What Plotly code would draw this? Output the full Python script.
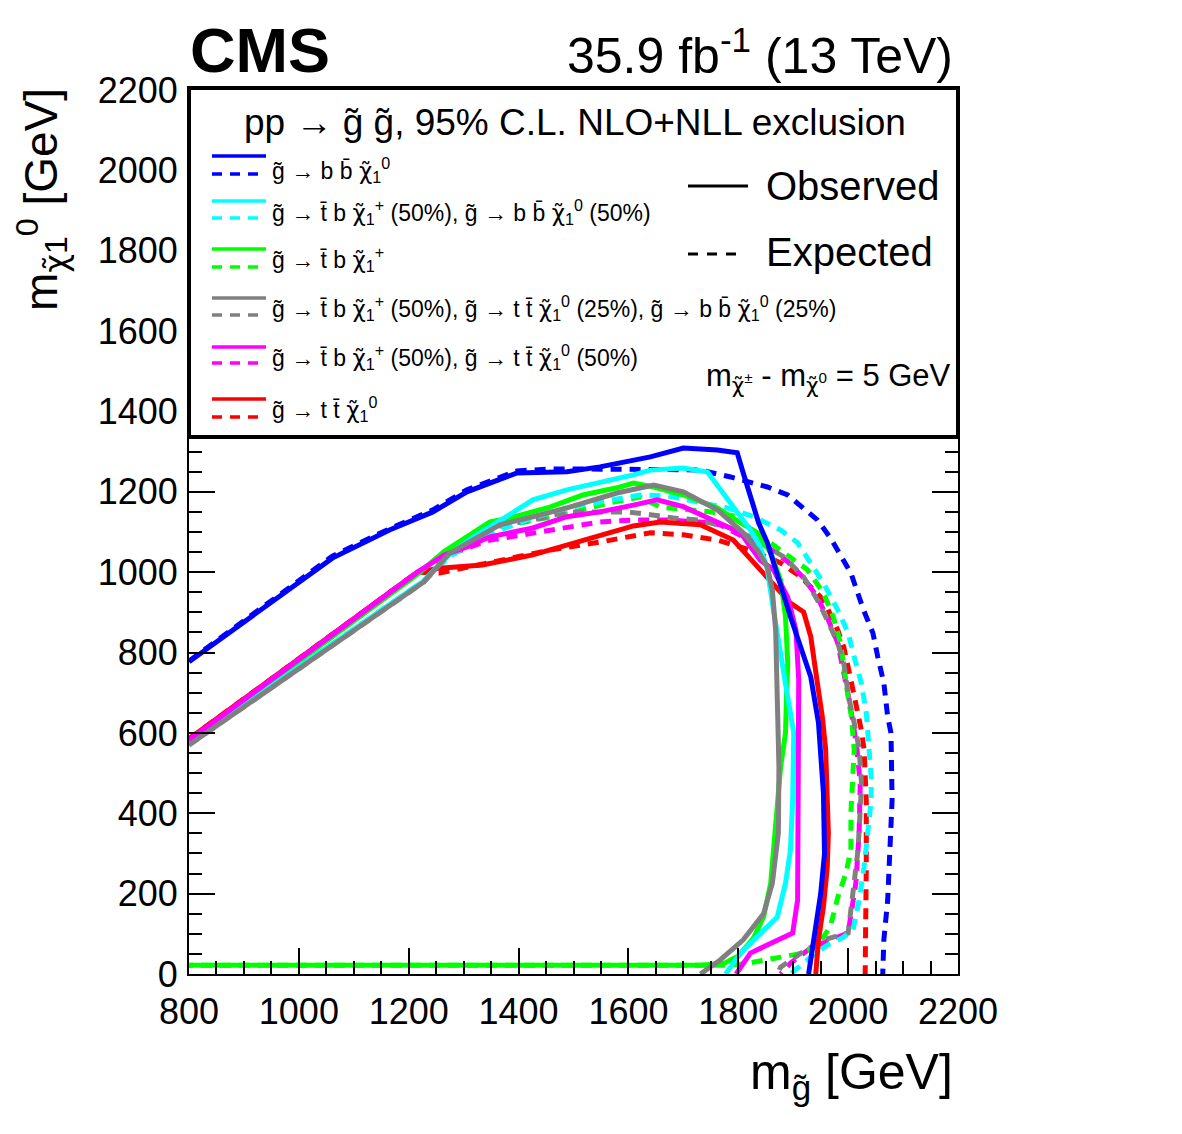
import plotly.graph_objects as go

# ---------------- data ----------------
blue_obs_x = [800, 922, 1061, 1165, 1244, 1306, 1397, 1488, 1548, 1640, 1700, 1762, 1798, 1809, 1837, 1853, 1895, 1932, 1946, 1955, 1957, 1950, 1938, 1928]
blue_obs_y = [777, 899, 1035, 1105, 1150, 1200, 1247, 1250, 1262, 1287, 1309, 1304, 1297, 1247, 1123, 1073, 889, 739, 625, 450, 300, 200, 100, 0]
blue_exp_x = [800, 922, 1061, 1165, 1244, 1306, 1397, 1460, 1530, 1600, 1700, 1731, 1786, 1853, 1890, 1919, 1944, 1968, 1986, 2005, 2028, 2045, 2054, 2065, 2072, 2078, 2080, 2076, 2072, 2065, 2063]
blue_exp_y = [779, 902, 1040, 1108, 1155, 1205, 1252, 1257, 1258, 1256, 1255, 1254, 1237, 1212, 1192, 1160, 1130, 1085, 1043, 998, 906, 849, 789, 724, 640, 600, 433, 309, 184, 85, 0]

cyan_obs_x = [800, 1227, 1275, 1320, 1366, 1426, 1488, 1548, 1609, 1640, 1700, 1744, 1767, 1791, 1822, 1840, 1853, 1864, 1877, 1890, 1901, 1899, 1895, 1886, 1871, 1840, 1804, 1777]
cyan_obs_y = [575, 978, 1046, 1090, 1128, 1180, 1205, 1222, 1242, 1254, 1259, 1249, 1205, 1162, 1105, 1063, 1006, 906, 789, 689, 600, 433, 309, 226, 142, 102, 52, 0]
cyan_exp_x = [800, 1227, 1275, 1320, 1366, 1426, 1488, 1548, 1621, 1670, 1731, 1780, 1828, 1877, 1908, 1932, 1955, 1981, 2000, 2011, 2024, 2033, 2038, 2042, 2042, 2036, 2029, 2020, 2009, 1990, 1960, 1930, 1905, 1895]
cyan_exp_y = [575, 978, 1040, 1075, 1105, 1135, 1160, 1175, 1192, 1190, 1172, 1160, 1138, 1105, 1073, 1023, 973, 906, 849, 789, 724, 650, 560, 490, 433, 351, 266, 184, 110, 90, 70, 40, 10, 0]

green_obs_x = [800, 1216, 1265, 1348, 1379, 1457, 1517, 1579, 1609, 1646, 1700, 1762, 1786, 1835, 1859, 1877, 1886, 1890, 1888, 1886, 1877, 1868, 1859, 1846, 1828, 1800, 1775, 1731, 800]
green_obs_y = [578, 995, 1052, 1125, 1133, 1162, 1192, 1210, 1222, 1212, 1192, 1160, 1138, 1098, 1048, 981, 889, 774, 700, 600, 515, 351, 226, 142, 90, 45, 27, 22, 22]
green_exp_x = [800, 1216, 1265, 1348, 1400, 1460, 1502, 1563, 1621, 1658, 1700, 1750, 1791, 1853, 1895, 1926, 1955, 1973, 1986, 1992, 2000, 2006, 2011, 2005, 2005, 1996, 1981, 1968, 1945, 1910, 1880, 1846, 1810, 1780, 800]
green_exp_y = [578, 995, 1045, 1105, 1122, 1138, 1150, 1172, 1187, 1162, 1156, 1150, 1140, 1080, 1038, 1006, 948, 889, 824, 757, 689, 640, 558, 401, 309, 251, 190, 120, 70, 50, 42, 35, 25, 22, 22]

grey_obs_x = [800, 1227, 1275, 1366, 1426, 1488, 1579, 1646, 1700, 1762, 1809, 1835, 1853, 1862, 1868, 1871, 1874, 1873, 1862, 1846, 1809, 1767, 1731]
grey_obs_y = [570, 975, 1048, 1118, 1138, 1160, 1197, 1217, 1200, 1155, 1098, 1055, 1013, 956, 856, 680, 515, 351, 226, 150, 85, 35, 0]
grey_exp_x = [800, 1227, 1275, 1366, 1426, 1488, 1553, 1597, 1640, 1682, 1725, 1780, 1822, 1853, 1883, 1919, 1944, 1962, 1981, 1992, 2001, 2011, 2020, 2024, 2023, 2018, 2011, 2000, 1955, 1914, 1877, 1871]
grey_exp_y = [570, 975, 1045, 1115, 1130, 1150, 1150, 1150, 1143, 1135, 1130, 1113, 1088, 1063, 1038, 988, 931, 881, 824, 774, 689, 625, 560, 480, 433, 309, 226, 102, 85, 52, 17, 0]

magenta_obs_x = [800, 1216, 1265, 1306, 1348, 1426, 1488, 1548, 1609, 1652, 1700, 1762, 1804, 1840, 1864, 1890, 1905, 1910, 1910, 1908, 1899, 1822, 1796]
magenta_obs_y = [582, 1000, 1043, 1063, 1088, 1110, 1138, 1150, 1167, 1180, 1163, 1123, 1098, 1030, 1006, 938, 856, 732, 433, 184, 102, 52, 0]
magenta_exp_x = [800, 1216, 1265, 1306, 1348, 1408, 1488, 1548, 1609, 1670, 1731, 1767, 1809, 1853, 1890, 1919, 1944, 1964, 1981, 1992, 2001, 2009, 2016, 2022, 2020, 2014, 2000, 1932, 1895, 1877]
magenta_exp_y = [582, 1000, 1040, 1060, 1080, 1093, 1113, 1125, 1130, 1130, 1125, 1118, 1088, 1063, 1026, 986, 938, 881, 824, 757, 689, 625, 560, 475, 351, 226, 102, 65, 27, 0]

red_obs_x = [800, 1216, 1256, 1334, 1426, 1517, 1609, 1658, 1731, 1791, 1840, 1871, 1895, 1919, 1932, 1944, 1953, 1959, 1964, 1962, 1955, 1946, 1941]
red_obs_y = [585, 1000, 1010, 1018, 1043, 1080, 1115, 1125, 1118, 1080, 1006, 956, 923, 901, 839, 724, 640, 560, 351, 266, 167, 85, 0]
red_exp_x = [800, 1216, 1256, 1366, 1457, 1548, 1640, 1700, 1762, 1822, 1877, 1914, 1955, 1981, 1992, 2005, 2018, 2025, 2029, 2033, 2033, 2033, 2031]
red_exp_y = [585, 1000, 998, 1030, 1055, 1075, 1098, 1093, 1080, 1055, 1023, 988, 931, 856, 814, 732, 650, 600, 558, 433, 266, 142, 0]

CHI = '<span style="font-family:DejaVu Sans">χ̃</span>'
legend_labels = [
    "g̃ → b b̄ " + CHI + "<sub>1</sub><sup>0</sup>",
    "g̃ → t̄ b " + CHI + "<sub>1</sub><sup>+</sup> (50%), g̃ → b b̄ " + CHI + "<sub>1</sub><sup>0</sup> (50%)",
    "g̃ → t̄ b " + CHI + "<sub>1</sub><sup>+</sup>",
    "g̃ → t̄ b " + CHI + "<sub>1</sub><sup>+</sup> (50%), g̃ → t t̄ " + CHI + "<sub>1</sub><sup>0</sup> (25%), g̃ → b b̄ " + CHI + "<sub>1</sub><sup>0</sup> (25%)",
    "g̃ → t̄ b " + CHI + "<sub>1</sub><sup>+</sup> (50%), g̃ → t t̄ " + CHI + "<sub>1</sub><sup>0</sup> (50%)",
    "g̃ → t t̄ " + CHI + "<sub>1</sub><sup>0</sup>",
]

# ---------------- figure ----------------
W, H = 1182, 1134
L, R, T, B = 189, 958, 90, 974
FONT = "Liberation Sans, Arial, Helvetica, sans-serif"
DASH = "11px,8px"

BLUE = "#0000ff"
CYAN = "#00ffff"
GREEN = "#00ff00"
GREY = "#808080"
MAGENTA = "#ff00ff"
RED = "#ff0000"

def px(xp):
    return (xp - L) / (R - L)

def py(yp):
    return (B - yp) / (B - T)

fig = go.Figure()

def add(x, y, color, dashed):
    fig.add_trace(go.Scatter(x=x, y=y, mode="lines", showlegend=False, hoverinfo="skip",
                             line=dict(color=color, width=5, dash=DASH if dashed else "solid")))

# expected (dashed) first
add(red_exp_x, red_exp_y, RED, True)
add(magenta_exp_x, magenta_exp_y, MAGENTA, True)
add(green_exp_x, green_exp_y, GREEN, True)
add(grey_exp_x, grey_exp_y, GREY, True)
add(cyan_exp_x, cyan_exp_y, CYAN, True)
add(blue_exp_x, blue_exp_y, BLUE, True)
# observed
add(red_obs_x, red_obs_y, RED, False)
add(green_obs_x, green_obs_y, GREEN, False)
add(cyan_obs_x, cyan_obs_y, CYAN, False)
add(magenta_obs_x, magenta_obs_y, MAGENTA, False)
add(grey_obs_x, grey_obs_y, GREY, False)
add(blue_obs_x, blue_obs_y, BLUE, False)

axis_common = dict(
    showgrid=False, zeroline=False, showline=True, linecolor="black", linewidth=2,
    mirror="ticks", ticks="inside", ticklen=26, tickwidth=2, tickcolor="black",
    tickfont=dict(family=FONT, size=36, color="black"),
    minor=dict(ticks="inside", ticklen=13, tickwidth=2, tickcolor="black", dtick=50),
    dtick=200,
)

fig.update_layout(
    width=W, height=H,
    margin=dict(l=L, r=W - R, t=T, b=H - B),
    paper_bgcolor="white", plot_bgcolor="white",
    xaxis=dict(range=[800, 2200], tick0=800, ticklabelstandoff=5, **axis_common),
    yaxis=dict(range=[0, 2200], tick0=0, ticklabelstandoff=2, **axis_common),
    showlegend=False,
)

shapes = []
# legend box
shapes.append(dict(type="rect", xref="paper", yref="paper", x0=0, x1=1, y0=py(437), y1=py(88),
                   fillcolor="white", line=dict(color="black", width=4), layer="above"))

colors = [BLUE, CYAN, GREEN, GREY, MAGENTA, RED]
solid_y = [156, 201, 249, 298, 347, 399]
dash_y = [174, 218, 267, 315, 363, 417]
text_y = [170, 212, 259, 308, 357, 409]
for c, sy, dy in zip(colors, solid_y, dash_y):
    shapes.append(dict(type="line", xref="paper", yref="paper", x0=px(212), x1=px(266), y0=py(sy), y1=py(sy),
                       line=dict(color=c, width=3.5), layer="above"))
    shapes.append(dict(type="line", xref="paper", yref="paper", x0=px(212), x1=px(266), y0=py(dy), y1=py(dy),
                       line=dict(color=c, width=3.5, dash="10px,8px"), layer="above"))
# observed / expected samples
shapes.append(dict(type="line", xref="paper", yref="paper", x0=px(688), x1=px(748), y0=py(186), y1=py(186),
                   line=dict(color="black", width=3), layer="above"))
shapes.append(dict(type="line", xref="paper", yref="paper", x0=px(688), x1=px(742), y0=py(254), y1=py(254),
                   line=dict(color="black", width=3, dash="10px,9px"), layer="above"))
fig.update_layout(shapes=shapes)

ann = []
def text(x, y, s, size, xanchor="left", yanchor="middle", bold=False, angle=0):
    ann.append(dict(xref="paper", yref="paper", x=x, y=y, text=("<b>%s</b>" % s) if bold else s,
                    showarrow=False, xanchor=xanchor, yanchor=yanchor, textangle=angle,
                    font=dict(family=FONT, size=size, color="black")))

text(px(575), py(123), "pp → g̃ g̃, 95% C.L. NLO+NLL exclusion", 37, xanchor="center")
for lab, ty in zip(legend_labels, text_y):
    text(px(270), py(ty), lab, 23)
text(px(764), py(186), "Observed", 40)
text(px(764), py(252), "Expected", 40)
text(px(953), py(378), "m<sub>" + CHI + "<sup>±</sup></sub> - m<sub>" + CHI + "<sup>0</sup></sub> = 5 GeV", 31, xanchor="right")

text(px(188), py(50), "CMS", 63, bold=True)
text(px(955), py(52), "35.9 fb<sup>-1</sup> (13 TeV)", 50, xanchor="right")
text(px(955), py(1075), "m<sub>g̃</sub> [GeV]", 50, xanchor="right")
text(px(42), py(200), "m<sub>" + CHI + "</sub><sub>1</sub><sup>0</sup> [GeV]", 46, xanchor="center", angle=-90)

fig.update_layout(annotations=ann)
fig.write_html("out.html")
